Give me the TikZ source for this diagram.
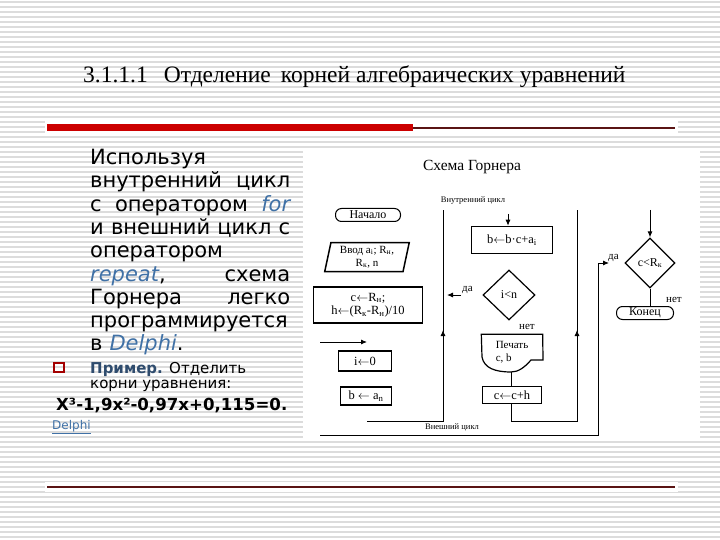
\documentclass[tikz,border=0pt]{standalone}
\usepackage{fontspec}
\setmainfont{Liberation Serif}
\newfontfamily\versans{DejaVu Sans}
\usetikzlibrary{arrows.meta, shapes.geometric, positioning}
\definecolor{slidered}{HTML}{CC0000}
\definecolor{darkline}{HTML}{5A1414}
\definecolor{kwblue}{HTML}{4071A6}
\definecolor{hdblue}{HTML}{2F4C6E}
\definecolor{stripegray}{HTML}{DCDCDC}
\newcommand{\jline}[1]{{\spaceskip=0.33em plus 1fil\makebox[200pt][s]{#1}}}
\newcommand{\asg}{$\leftarrow$}

\begin{document}
\begin{tikzpicture}[
  x=1pt, y=-1pt,
  >={Latex[length=6pt,width=5pt]},
  box/.style={rectangle, draw=black, line width=1.5pt, inner sep=1pt,
    font=\fontsize{12.5}{13.5}\selectfont},
  term/.style={rectangle, rounded corners=6pt, draw=black, line width=1pt,
    minimum height=13pt, inner sep=0pt, font=\fontsize{12}{13}\selectfont},
  dec/.style={diamond, draw=black, line width=1.2pt, minimum width=52pt,
    minimum height=50pt, inner sep=0pt, font=\fontsize{12}{13}\selectfont},
  lbl/.style={font=\fontsize{11}{12}\selectfont, inner sep=0pt},
  tiny/.style={font=\fontsize{8.5}{9}\selectfont, inner sep=0pt},
  flow/.style={line width=0.9pt},
  arr/.style={->, line width=0.9pt}
]
\useasboundingbox (0,0) rectangle (720,540);

% ---- Slide background ----
\fill[white] (0,0) rectangle (720,540);
\foreach \y in {2,7,...,540} {
  \draw[stripegray, line width=2pt] (0,\y) -- (720,\y);
}
\fill[white] (45,118) rectangle (678,136);
\fill[white] (45,482) rectangle (678,492);

% ---- Heading ----
\node[anchor=base west, inner sep=0pt, font=\fontsize{23.5}{26}\selectfont] (head) at (83,83)
  {3.1.1.1\hspace{16pt}Отделение\hspace{10pt}корней алгебраических уравнений};
\fill[slidered] (47,124) rectangle (413,131);
\draw[darkline, line width=1.2pt] (413,128) -- (675,128);
\draw[darkline, line width=2pt] (47,487) -- (675,487);

% ---- Left text ----
\node[anchor=north west, inner sep=0pt, text width=200pt, align=left,
  font=\versans\fontsize{21}{23.3}\selectfont] (intro) at (90,149) {%
  Используя\\
  \jline{внутренний цикл}\\
  \jline{с оператором \textcolor{kwblue}{\itshape for}}\\
  \jline{и внешний цикл с}\\
  оператором\\
  \jline{\textcolor{kwblue}{\itshape repeat}, схема}\\
  \jline{Горнера легко}\\
  программируется\\
  в \textcolor{kwblue}{\itshape Delphi}.};

\draw[slidered!80!black, line width=1.6pt] (54,363) rectangle (64,372);
\node[anchor=base west, inner sep=0pt, font=\versans\fontsize{15}{17}\selectfont] (ex1) at (90,373)
  {\textcolor{hdblue}{\bfseries Пример.} Отделить};
\node[anchor=base west, inner sep=0pt, font=\versans\fontsize{15}{17}\selectfont] (ex2) at (90,388)
  {корни уравнения:};
\node[anchor=base west, inner sep=0pt, font=\versans\bfseries\fontsize{16.6}{18}\selectfont] (eqn) at (56,410)
  {X³-1,9x²-0,97x+0,115=0.};
\node[anchor=base west, inner sep=0pt, font=\versans\fontsize{12}{14}\selectfont, text=kwblue] (lnk) at (52,429)
  {\underline{Delphi}};

% ---- Flowchart panel ----
\fill[white] (303,148) rectangle (700,441);
\node[font=\fontsize{15.5}{17}\selectfont, inner sep=0pt] (scheme) at (472,167) {Схема Горнера};
\node[tiny] (inlbl) at (473,201) {Внутренний цикл};
\node[tiny] (outlbl) at (452,427) {Внешний цикл};

\node[term, minimum width=65pt] (start) at (368,215) {Начало};
\node[trapezium, trapezium left angle=78, trapezium right angle=102, trapezium stretches=true,
  draw=black, line width=1.5pt, minimum width=85pt, minimum height=29pt, inner sep=0pt,
  align=center, font=\fontsize{11}{13}\selectfont] (input) at (367,257)
  {Ввод a\textsubscript{i}; R\textsubscript{н},\\R\textsubscript{к}, n};
\node[box, minimum width=109pt, minimum height=36pt, align=center] (init) at (368,305)
  {c\asg R\textsubscript{н};\\h\asg(R\textsubscript{к}-R\textsubscript{н})/10};
\node[box, minimum width=53pt, minimum height=20pt] (izero) at (365,361) {i\asg 0};
\node[box, minimum width=51pt, minimum height=18pt] (bset) at (366,396) {b \asg\ a\textsubscript{n}};

\node[box, minimum width=81pt, minimum height=27pt] (horner) at (512,240)
  {b\asg b·c+a\textsubscript{i}};
\node[dec] (iless) at (509,295) {i<n};
\node[inner sep=0pt, minimum width=61pt, minimum height=35pt, align=left,
  font=\fontsize{11}{12.5}\selectfont] (print) at (512,352) {Печать\\c, b};
\node[box, minimum width=59pt, minimum height=17pt] (cstep) at (512,395) {c\asg c+h};

\node[dec, minimum width=50pt] (cless) at (650,263) {c<R\textsubscript{к}};
\node[term, minimum width=57pt] (fin) at (645,313) {Конец};

% print shape outline
\draw[line width=1.2pt] (print.north west) -- (print.north east) -- (543,360) -- (531,360)
  .. controls (524,368) and (518,372) .. (511,372)
  .. controls (495,372) and (484,368) .. (482,357) -- cycle;
\coordinate (printb) at (511,372);

% ---- Connectors ----
\coordinate (feedA) at (320,342);
\coordinate (feedB) at (367,342);
\draw[arr] (feedA) -- (feedB);

\coordinate (innerS) at (367,421);
\coordinate (innerL) at (443,421);
\coordinate (innerT) at (443,210);
\draw[arr] (innerS) -- (innerL) -- (443,330);
\draw[flow] (443,332) -- (innerT);

\coordinate (yesA) at (461,295);
\coordinate (yesB) at (447,295);
\draw[arr] (yesA) -- (yesB);
\node[lbl, anchor=base west] (yes1) at (462,291) {да};
\node[lbl, anchor=base west] (no1) at (519,329) {нет};

\coordinate (hornT) at (508,214);
\draw[arr] (hornT) -- (hornT |- horner.north);
\draw[flow] (printb) -- (printb |- cstep.north);

\coordinate (innerR) at (577,421);
\coordinate (innerRT) at (577,210);
\draw[arr] (cstep.south -| printb) -- (printb |- innerR) -- (innerR) -- (577,330);
\draw[flow] (577,332) -- (innerRT);

\coordinate (outerS) at (320,435);
\coordinate (outerC) at (598,435);
\coordinate (outerE) at (609,263);
\draw[arr] (outerS) -- (outerC) -- (598,263) -- (outerE);
\node[lbl, anchor=base west] (yes2) at (608,259) {да};

\coordinate (clessT) at (650,210);
\draw[arr] (clessT) -- (cless.north);
\draw[flow] (cless.south) -- (cless.south |- fin.north);
\node[lbl, anchor=base west] (no2) at (666,302) {нет};

\end{tikzpicture}
\end{document}
